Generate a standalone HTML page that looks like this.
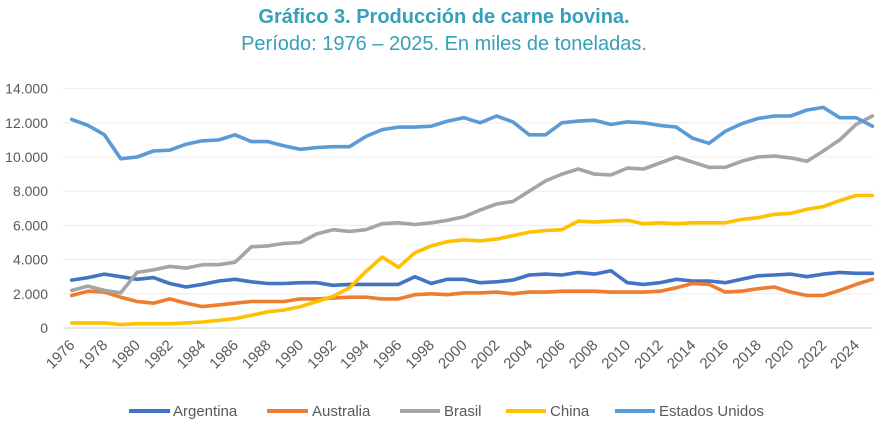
<!DOCTYPE html>
<html><head><meta charset="utf-8"><style>
body{margin:0;background:#fff;}
svg{display:block;font-family:"Liberation Sans",sans-serif;}
</style></head><body>
<svg id="c" width="888" height="435" xmlns="http://www.w3.org/2000/svg">
<text x="444" y="23" text-anchor="middle" font-size="20" font-weight="bold" fill="#35A0B8">Gráfico 3. Producción de carne bovina.</text>
<text x="444" y="50" text-anchor="middle" font-size="20" fill="#35A0B8">Período: 1976 – 2025. En miles de toneladas.</text>
<g id="grid"></g><g id="series"></g><g id="labels" font-size="14" fill="#595959"></g>
<g font-size="15" fill="#595959">
<line x1="129" y1="411" x2="170" y2="411" stroke="#4472C4" stroke-width="4"/><text x="173" y="416">Argentina</text>
<line x1="267" y1="411" x2="308" y2="411" stroke="#ED7D31" stroke-width="4"/><text x="312" y="416">Australia</text>
<line x1="400" y1="411" x2="440" y2="411" stroke="#A5A5A5" stroke-width="4"/><text x="444" y="416">Brasil</text>
<line x1="506" y1="411" x2="546" y2="411" stroke="#FFC000" stroke-width="4"/><text x="550" y="416">China</text>
<line x1="615" y1="411" x2="655" y2="411" stroke="#5B9BD5" stroke-width="4"/><text x="659" y="416">Estados Unidos</text>
</g>
</svg>
<script>
var NS="http://www.w3.org/2000/svg";
function el(t,a,p,txt){var e=document.createElementNS(NS,t);for(var k in a)e.setAttribute(k,a[k]);if(txt!=null)e.textContent=txt;document.getElementById(p).appendChild(e);return e;}
var x0=71.7,dx=16.34,y0=328,ky=34.2/2;
for(var v=0;v<=14;v+=2){var y=y0-v*ky;
el("line",{x1:63,x2:873,y1:y,y2:y,stroke:v==0?"#d0d0d0":"#ececec","stroke-width":1},"grid");
el("text",{x:48,y:y+5,"text-anchor":"end","font-size":"14"},"labels",v==0?"0":v+".000");}
for(var yr=1976;yr<=2024;yr+=2){var x=x0+(yr-1976)*dx;
el("text",{transform:"translate("+(x+4)+",346) rotate(-45)","text-anchor":"end","font-size":"15"},"labels",String(yr));}
var D={
"#4472C4":[2.8,2.95,3.15,3.0,2.85,2.95,2.6,2.4,2.55,2.75,2.85,2.7,2.6,2.6,2.65,2.65,2.5,2.55,2.55,2.55,2.55,3.0,2.6,2.85,2.85,2.65,2.7,2.8,3.1,3.15,3.1,3.25,3.15,3.35,2.65,2.55,2.65,2.85,2.75,2.75,2.65,2.85,3.05,3.1,3.15,3.0,3.15,3.25,3.2,3.2],
"#ED7D31":[1.9,2.15,2.1,1.8,1.55,1.45,1.7,1.45,1.25,1.35,1.45,1.55,1.55,1.55,1.7,1.7,1.75,1.8,1.8,1.7,1.7,1.95,2.0,1.95,2.05,2.05,2.1,2.0,2.1,2.1,2.15,2.15,2.15,2.1,2.1,2.1,2.15,2.35,2.6,2.55,2.1,2.15,2.3,2.4,2.1,1.9,1.9,2.2,2.55,2.85],
"#A5A5A5":[2.2,2.45,2.2,2.05,3.25,3.4,3.6,3.5,3.7,3.7,3.85,4.75,4.8,4.95,5.0,5.5,5.75,5.65,5.75,6.1,6.15,6.05,6.15,6.3,6.5,6.9,7.25,7.4,8.0,8.6,9.0,9.3,9.0,8.95,9.35,9.3,9.65,10.0,9.7,9.4,9.4,9.75,10.0,10.05,9.95,9.75,10.35,11.0,11.9,12.4],
"#FFC000":[.3,.3,.3,.2,.25,.25,.25,.3,.35,.45,.55,.75,.95,1.05,1.25,1.55,1.85,2.35,3.3,4.15,3.55,4.4,4.8,5.05,5.15,5.1,5.2,5.4,5.6,5.7,5.75,6.25,6.2,6.25,6.3,6.1,6.15,6.1,6.15,6.15,6.15,6.35,6.45,6.65,6.7,6.95,7.1,7.45,7.75,7.75],
"#5B9BD5":[12.2,11.85,11.3,9.9,10.0,10.35,10.4,10.75,10.95,11.0,11.3,10.9,10.9,10.65,10.45,10.55,10.6,10.6,11.2,11.6,11.75,11.75,11.8,12.1,12.3,12.0,12.4,12.05,11.3,11.3,12.0,12.1,12.15,11.9,12.05,12.0,11.85,11.75,11.1,10.8,11.5,11.95,12.25,12.4,12.4,12.75,12.9,12.3,12.3,11.8]};
for(var c in D){var p=D[c].map(function(v,i){return (x0+i*dx).toFixed(1)+","+(y0-v*ky).toFixed(1);}).join(" ");
el("polyline",{points:p,fill:"none",stroke:c,"stroke-width":3.6,"stroke-linejoin":"round","stroke-linecap":"round"},"series");}
</script>
</body></html>
